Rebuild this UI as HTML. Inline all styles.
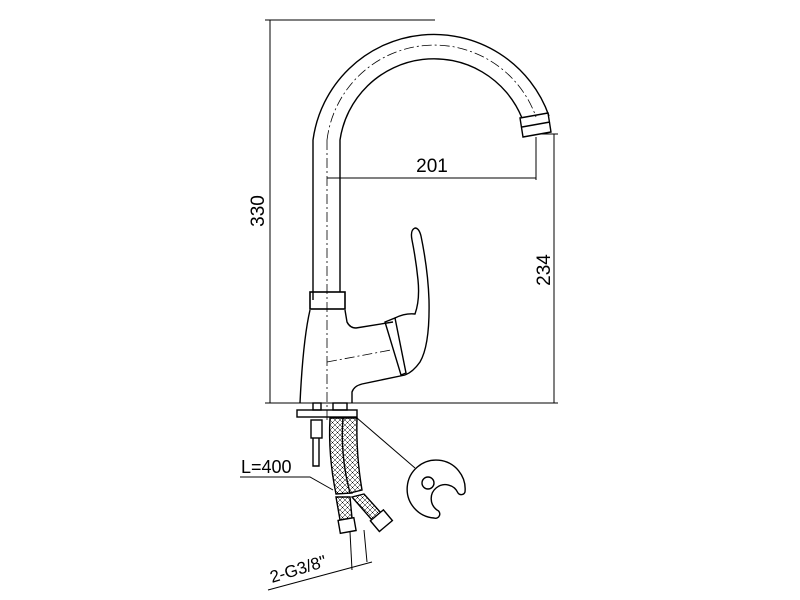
<!DOCTYPE html>
<html><head><style>body{margin:0;background:#fff}svg{display:block}text{font-family:"Liberation Sans",Arial,sans-serif;fill:#000}</style></head>
<body>
<svg width="800" height="600" viewBox="0 0 800 600" xmlns="http://www.w3.org/2000/svg" fill="none" stroke="#000" stroke-width="1.4">
<defs>
<pattern id="br" width="5" height="5" patternUnits="userSpaceOnUse">
<rect width="5" height="5" fill="#fff" stroke="none"/>
<path d="M0 0 L5 5 M5 0 L0 5" stroke="#000" stroke-width="0.5"/>
</pattern>
</defs>
<!-- dimension lines -->
<g stroke-width="1">
<line x1="265" y1="20" x2="435" y2="20"/>
<line x1="270" y1="20" x2="270" y2="403"/>
<line x1="265" y1="403" x2="558" y2="403"/>
<line x1="554" y1="134" x2="554" y2="403"/>
<line x1="540" y1="134" x2="558" y2="134"/>
<line x1="327" y1="178" x2="536" y2="178"/>
<line x1="536" y1="137" x2="536" y2="180"/>
</g>
<text x="0" y="0" font-size="19" stroke="none" transform="translate(264,211) rotate(-90)" text-anchor="middle">330</text>
<text x="0" y="0" font-size="19" stroke="none" transform="translate(550,270) rotate(-90)" text-anchor="middle">234</text>
<text x="432" y="172" font-size="19" stroke="none" text-anchor="middle">201</text>
<!-- spout -->
<path d="M313 300 L313 140 A122 122 0 0 1 549 116"/>
<path d="M340 292 L340 140 A95 95 0 0 1 522 118"/>
<path d="M327 140 A108 108 0 0 1 536 117" stroke-width="0.8" stroke-dasharray="10 3 2 3"/>
<line x1="327" y1="140" x2="327" y2="420" stroke-width="0.8" stroke-dasharray="10 3 2 3"/>
<path d="M520 118 L548 113 L551 132 L523 137 Z"/>
<line x1="522" y1="127" x2="550" y2="122"/>
<!-- collar -->
<rect x="310" y="292" width="35" height="17" stroke-width="1.6"/>
<!-- body -->
<path d="M310 310 Q303 340 300 403"/>
<path d="M345 310 L347 322 Q350 328 356 328 L393 322"/>
<path d="M352 403 L352 392 Q354 386 362 384 L405 375"/>
<path d="M327 362 L391 350" stroke-width="0.8" stroke-dasharray="10 3 2 3"/>
<path d="M385 322 L395 318 L406 373 L401 375 Z"/>
<!-- handle -->
<path d="M395 318 Q405 313 415 314 Q420 300 418 280 Q416 260 412 240 Q410 230 415 228 Q419 228 421 236 Q428 270 429 300 Q430 345 420 362 Q413 372 405 375"/>
<!-- plate -->
<rect x="297" y="410" width="60" height="7"/>
<rect x="313" y="403" width="8" height="7"/>
<rect x="333" y="403" width="14" height="7"/>
<rect x="311" y="420" width="11" height="18"/>
<path d="M313 438 L313 466 L319 466 L319 438"/>
<!-- hoses -->
<path d="M330 418 L343 418 Q342 455 352 493 L336 494 Q328 455 330 418 Z" fill="url(#br)"/>
<path d="M343 418 L357 418 Q356 455 362 490 L350 493 Q340 455 343 418 Z" fill="url(#br)"/>
<path d="M336 497 L350 497 L352 518 L340 520 Z" fill="url(#br)"/>
<path d="M352 497 L364 494 L382 514 L372 520 Z" fill="url(#br)"/>
<rect x="339" y="519" width="16" height="13" fill="#fff" transform="rotate(-10 347 525)"/>
<rect x="373" y="514" width="17" height="14" fill="#fff" transform="rotate(-40 381 521)"/>
<line x1="350" y1="532" x2="352" y2="570" stroke-width="1"/>
<line x1="364" y1="530" x2="367" y2="562" stroke-width="1"/>
<!-- washer -->
<line x1="357" y1="418" x2="415" y2="468" stroke-width="1"/>
<path d="M465 492 A29 29 0 1 0 434 518 A4 4 0 0 0 437 510 A14 14 0 1 1 458 493 A4 4 0 0 0 465 492 Z"/>
<circle cx="428" cy="483" r="6"/>
<!-- labels -->
<text x="241" y="473" font-size="18" stroke="none">L=400</text>
<path d="M240 477 L310 477 L333 490" stroke-width="1"/>
<text x="0" y="0" font-size="17" stroke="none" transform="translate(272,583) rotate(-17)">2-G3/8"</text>
<line x1="268" y1="590" x2="372" y2="562" stroke-width="1"/>
</svg>
</body></html>
